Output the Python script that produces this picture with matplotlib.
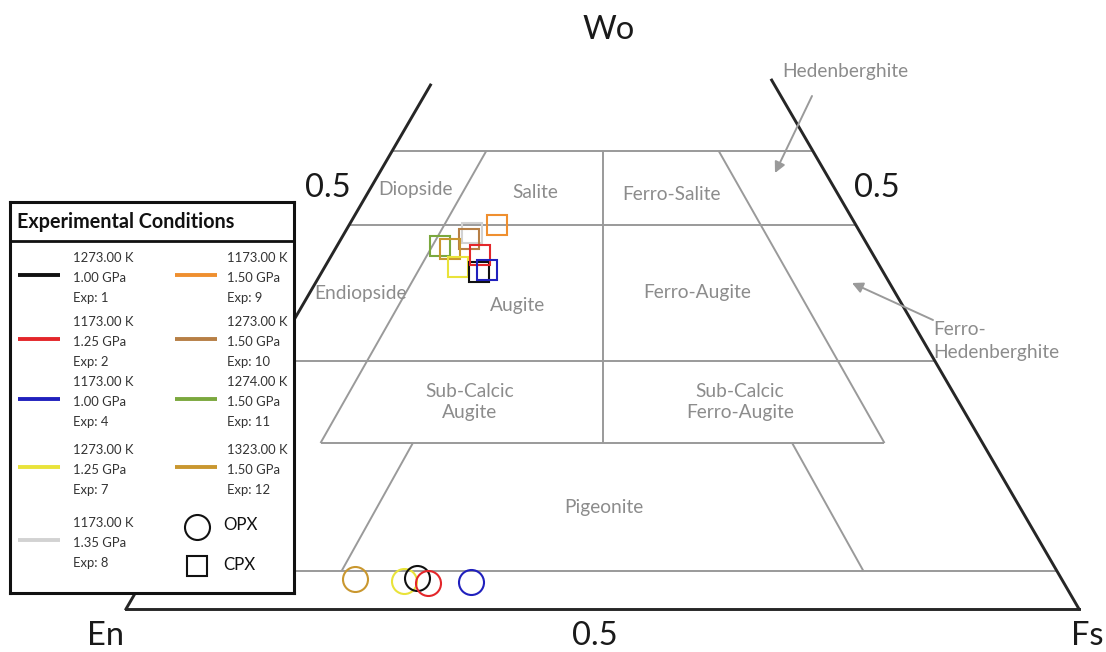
import numpy as np
import matplotlib
matplotlib.use('Agg')
import matplotlib.pyplot as plt

plt.rcParams['font.family'] = ['Lato', 'DejaVu Sans']

W, H = 1106, 652

# --- experiment conditions ---
exp_ids = [1, 2, 4, 7, 8, 9, 10, 11, 12]
temps_K = [1273.00, 1173.00, 1173.00, 1273.00, 1173.00, 1173.00, 1273.00, 1274.00, 1323.00]
press_GPa = [1.00, 1.25, 1.00, 1.25, 1.35, 1.50, 1.50, 1.50, 1.50]
exp_colors = ['#111111', '#e3262a', '#2020bd', '#e9e33a', '#d2d2d2',
              '#ef8f2f', '#b77f45', '#7ba83e', '#c9972f']

# CPX compositions (mole fractions, per experiment)
cpx_wo = [0.411, 0.432, 0.413, 0.417, 0.459, 0.468, 0.451, 0.443, 0.439]
cpx_fs = [0.165, 0.155, 0.172, 0.140, 0.134, 0.155, 0.134, 0.108, 0.121]
cpx_order = [8, 10, 9, 11, 12, 7, 1, 2, 4]   # drawing order (exp id)

# OPX compositions
opx_exp = [12, 7, 1, 2, 4]
opx_wo = [0.037, 0.034, 0.038, 0.032, 0.033]
opx_fs = [0.222, 0.275, 0.286, 0.301, 0.345]

# quadrilateral field boundaries (Wo levels of the drawn lines)
wo_top, wo_45, wo_25, wo_15, wo_5 = 0.5585, 0.4683, 0.3024, 0.2024, 0.0463

field_labels = ['Diopside', 'Salite', 'Ferro-Salite', 'Endiopside', 'Augite',
                'Ferro-Augite', 'Sub-Calcic\nAugite', 'Sub-Calcic\nFerro-Augite',
                'Pigeonite']
field_px = [(415, 190), (535, 192), (672, 194), (360, 293), (518, 306),
            (697, 292), (470, 402), (740, 402), (604, 508)]

GRID = '#9a9a9a'
LABEL = '#8c8c8c'
EDGE = '#262626'


def tern(fs, wo):
    """composition -> cartesian (x along En-Fs, y = Wo)"""
    fs = np.asarray(fs, float)
    wo = np.asarray(wo, float)
    return fs + wo / 2, wo


def fxy(px, py):
    return px / W, 1 - py / H


fig = plt.figure(figsize=(W / 100, H / 100), dpi=100)
ax = fig.add_axes([0, 0, 1, 1])
ax.set_xlim(-126 / 953, (W - 126) / 953)
ax.set_ylim(-(H - 609) / 820, 609 / 820)
ax.axis('off')

# --- grey field boundaries ---
segs = [
    ((wo_top / 2, wo_top), (1 - wo_top / 2, wo_top)),
    ((wo_45 / 2, wo_45), (1 - wo_45 / 2, wo_45)),
    ((wo_25 / 2, wo_25), (1 - wo_25 / 2, wo_25)),
    ((0.2041, wo_15), (0.7959, wo_15)),
    ((wo_5 / 2, wo_5), (1 - wo_5 / 2, wo_5)),
    ((0.5, wo_top), (0.5, wo_15)),
    ((0.378, wo_top), (0.2041, wo_15)),
    ((0.622, wo_top), (0.7959, wo_15)),
    ((0.301, wo_15), (0.2262, wo_5)),
    ((0.699, wo_15), (0.7738, wo_5)),
]
for (x0, y0), (x1, y1) in segs:
    ax.plot([x0, x1], [y0, y1], color=GRID, lw=1.4, solid_capstyle='butt', zorder=1)

# --- outer triangle edges ---
ax.plot([0, 1], [0, 0], color=EDGE, lw=2.1, zorder=2)
ax.plot([0, 0.639 / 2], [0, 0.639], color=EDGE, lw=2.1, zorder=2)
ax.plot([1, 1 - 0.645 / 2], [0, 0.645], color=EDGE, lw=2.1, zorder=2)

# --- data markers ---
col_of = dict(zip(exp_ids, exp_colors))
idx_of = {e: i for i, e in enumerate(exp_ids)}
for e in cpx_order:
    i = idx_of[e]
    x, y = tern(cpx_fs[i], cpx_wo[i])
    ax.plot(x, y, marker='s', ms=14.2, mfc='none', mec=col_of[e], mew=1.5, zorder=5)
for e, fs, wo in zip(opx_exp, opx_fs, opx_wo):
    x, y = tern(fs, wo)
    ax.plot(x, y, marker='o', ms=18, mfc='none', mec=col_of[e], mew=1.5, zorder=5)

# --- field names ---
for lab, (px, py) in zip(field_labels, field_px):
    fig.text(*fxy(px, py), lab, color=LABEL, fontsize=13.8, ha='center', va='center',
             linespacing=1.3)

fig.text(*fxy(845, 72), 'Hedenberghite', color=LABEL, fontsize=13.8, ha='center', va='center')
fig.text(*fxy(933, 341), 'Ferro-\nHedenberghite', color=LABEL, fontsize=13.8,
         ha='left', va='center', linespacing=1.4)
arrow = dict(arrowstyle='-|>', color=GRID, lw=1.4, mutation_scale=16, shrinkA=0, shrinkB=0)
ax.annotate('', xy=fxy(775, 173), xytext=fxy(812, 96), xycoords='figure fraction',
            textcoords='figure fraction', arrowprops=arrow)
ax.annotate('', xy=fxy(852, 283), xytext=fxy(933, 320), xycoords='figure fraction',
            textcoords='figure fraction', arrowprops=arrow)

# --- apex / axis labels ---
for txt, (px, py) in [('Wo', (609, 30)), ('En', (105, 636)), ('Fs', (1087, 636)),
                      ('0.5', (595, 636)), ('0.5', (328, 188)), ('0.5', (877, 188))]:
    fig.text(*fxy(px, py), txt, fontsize=23.5, color='#1a1a1a', ha='center', va='center')

# --- legend box ---
lx0, ly0, lw_, lh_ = 10, 202, 284, 391
lg = fig.add_axes([lx0 / W, 1 - (ly0 + lh_) / H, lw_ / W, lh_ / H])
lg.set_xlim(0, lw_)
lg.set_ylim(lh_, 0)
lg.set_xticks([])
lg.set_yticks([])
lg.set_facecolor('white')
for sp in lg.spines.values():
    sp.set_linewidth(2.2)
    sp.set_color('#111111')
lg.text(7, 20, 'Experimental Conditions', fontsize=14.2, fontweight='bold',
        ha='left', va='center', color='#111111')
lg.plot([0, lw_], [39, 39], color='#111111', lw=2.0)

rows = [73, 137, 197, 265, 338]
cols = [(8, 50, 63), (165, 207, 217)]
for k, e in enumerate(exp_ids):
    c = 0 if k < 5 else 1
    r = rows[k if k < 5 else k - 5]
    xa, xb, xt = cols[c]
    i = idx_of[e]
    lg.plot([xa, xb], [r, r], color=exp_colors[i], lw=2.8, solid_capstyle='butt')
    for dy, s in zip([-17, 3, 23], [f'{temps_K[i]:.2f} K', f'{press_GPa[i]:.2f} GPa',
                                    f'Exp: {e}']):
        lg.text(xt, r + dy, s, fontsize=9.4, color='#333333', ha='left', va='center')

lg.plot(187, 325, marker='o', ms=18, mfc='none', mec='#111111', mew=1.5)
lg.text(213, 323, 'OPX', fontsize=12.2, ha='left', va='center', color='#111111')
lg.plot(187, 364, marker='s', ms=14.2, mfc='none', mec='#111111', mew=1.5)
lg.text(213, 363, 'CPX', fontsize=12.2, ha='left', va='center', color='#111111')

fig.savefig('out.png', dpi=100)
